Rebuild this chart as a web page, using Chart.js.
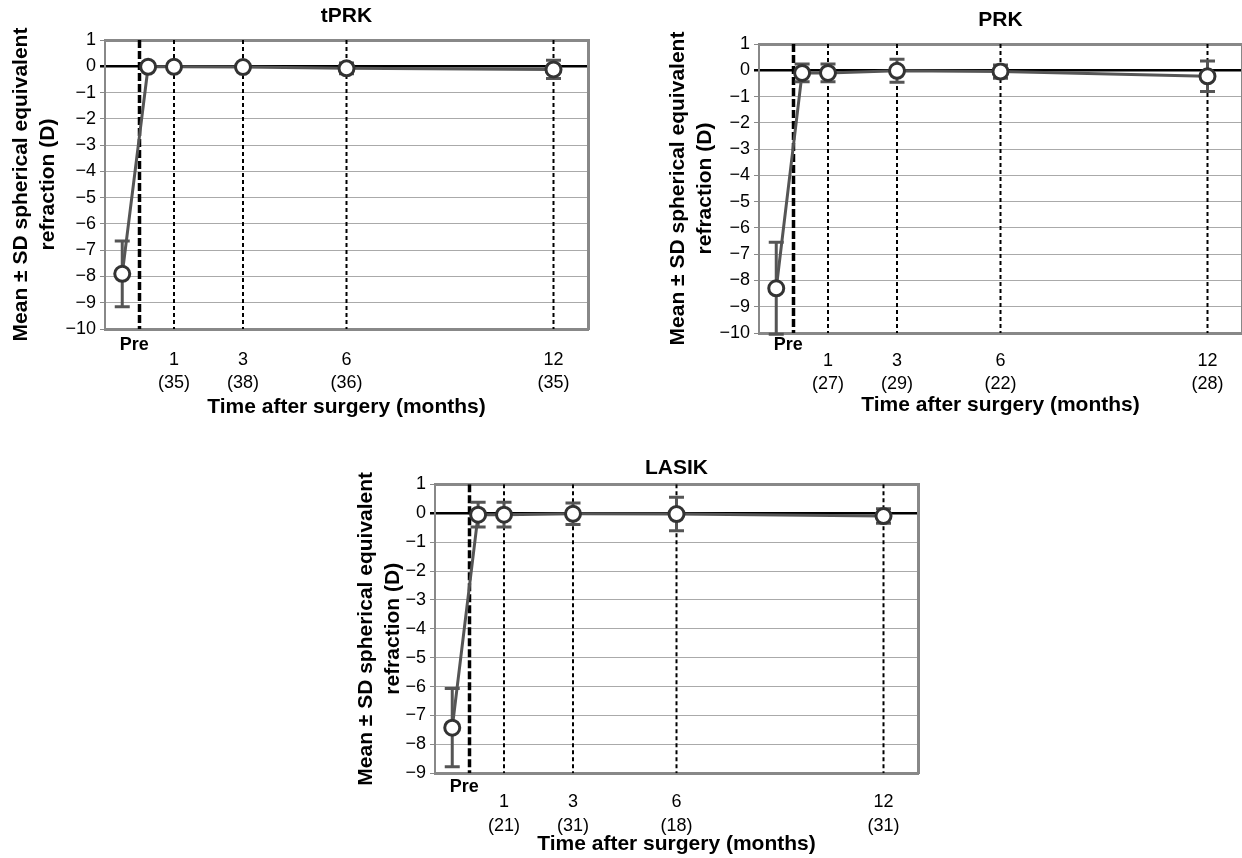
<!DOCTYPE html>
<html><head><meta charset="utf-8">
<script src="https://cdn.jsdelivr.net/npm/chart.js@4"></script>
<style>
html,body{margin:0;padding:0;background:#fff;overflow:hidden;width:1242px;height:858px;position:relative;}
canvas{position:absolute;}
</style></head><body>
<canvas id="c1"></canvas><canvas id="c2"></canvas><canvas id="c3"></canvas>
<script>
// ---- data ----
const timepoints = [-0.5, 0.25, 1, 3, 6, 12];   // months (Pre, early, 1, 3, 6, 12)
const monthTicks = [1, 3, 6, 12];
const monthLabels = ['1', '3', '6', '12'];
const preTick = -0.15;
const preLabel = 'Pre';
const guideMonths = [0, 1, 3, 6, 12];

const tprkMean = [-7.9, -0.02, -0.02, -0.03, -0.08, -0.12];
const tprkSD   = [1.25, 0.1, 0.1, 0.1, 0.2, 0.35];
const tprkN    = ['35', '38', '36', '35'];

const prkMean = [-8.3, -0.1, -0.1, -0.02, -0.05, -0.23];
const prkSD   = [1.75, 0.34, 0.34, 0.44, 0.25, 0.58];
const prkN    = ['27', '29', '22', '28'];

const lasikMean = [-7.42, -0.05, -0.05, -0.02, -0.03, -0.1];
const lasikSD   = [1.35, 0.43, 0.43, 0.37, 0.58, 0.25];
const lasikN    = ['21', '31', '18', '31'];

const yTitle = ['Mean \u00b1 SD spherical equivalent', 'refraction (D)'];
const xTitle = 'Time after surgery (months)';

const FONT = '"Liberation Sans", Arial, Helvetica, sans-serif';

const guides = {
  id: 'guides',
  beforeDatasetsDraw(chart) {
    const {ctx, chartArea: a, scales: {x, y}} = chart;
    ctx.save();
    ctx.beginPath(); ctx.rect(a.left, a.top, a.right - a.left, a.bottom - a.top); ctx.clip();
    guideMonths.forEach(m => {
      const px = x.getPixelForValue(m);
      ctx.beginPath();
      if (m === 0) { ctx.lineWidth = 3.5; ctx.setLineDash([8, 3]); }
      else { ctx.lineWidth = 2; ctx.setLineDash([4, 3]); }
      ctx.strokeStyle = '#000';
      ctx.moveTo(px, a.top); ctx.lineTo(px, a.bottom); ctx.stroke();
    });
    ctx.restore();
    ctx.save();
    ctx.setLineDash([]);
    ctx.strokeStyle = '#555'; ctx.lineWidth = 3;
    chart.data.datasets.forEach(ds => {
      ds.data.forEach((p, i) => {
        const sd = ds.sd[i];
        const px = x.getPixelForValue(p.x);
        const yt = y.getPixelForValue(p.y + sd), yb = y.getPixelForValue(p.y - sd);
        ctx.beginPath();
        ctx.moveTo(px, yt); ctx.lineTo(px, yb);
        ctx.moveTo(px - 7.5, yt); ctx.lineTo(px + 7.5, yt);
        ctx.moveTo(px - 7.5, yb); ctx.lineTo(px + 7.5, yb);
        ctx.stroke();
      });
    });
    ctx.restore();
  }
};

function build(id, cfg) {
  const lhY = 21 * 1.3;
  const tx = cfg.yTitleX - lhY / 2;
  const cl = Math.floor(tx) - 2;
  const topH = cfg.titleGap + 10.5;
  const ct = Math.floor(cfg.area.t - topH);
  const cr = Math.ceil(cfg.area.r + 8);
  const xH = cfg.preC + 6;
  const x2H = cfg.titleC + 10.5 - xH;
  const below = xH + x2H;
  const cb = Math.ceil(cfg.area.b + below);
  const cv = document.getElementById(id);
  cv.width = cr - cl; cv.height = cb - ct;
  cv.style.left = cl + 'px'; cv.style.top = ct + 'px';
  cv.style.width = (cr - cl) + 'px'; cv.style.height = (cb - ct) + 'px';
  const noGrid = {display: false, drawTicks: false};
  new Chart(cv, {
    type: 'line',
    data: {datasets: [{
      data: timepoints.map((t, i) => ({x: t, y: cfg.mean[i]})),
      sd: cfg.sd,
      xAxisID: 'x', yAxisID: 'y',
      borderColor: '#555', borderWidth: 3, tension: 0,
      pointRadius: 7.5, pointBackgroundColor: '#fff', pointBorderColor: '#333', pointBorderWidth: 3,
      clip: false
    }]},
    options: {
      responsive: false, animation: false, devicePixelRatio: 1,
      layout: {autoPadding: false, padding: {left: 0, top: cfg.area.t - topH - ct, right: cr - cfg.area.r, bottom: cb - cfg.area.b - below}},
      plugins: {legend: {display: false}, tooltip: {enabled: false}, title: {display: false}},
      scales: {
        x: {
          type: 'linear', position: 'bottom', min: -1, max: 13,
          grid: noGrid, border: {display: true, color: '#888', width: 3},
          afterBuildTicks: s => { s.ticks = [{value: preTick}]; },
          ticks: {autoSkip: false, maxRotation: 0, padding: cfg.preC - 10.8, color: '#000',
            font: {family: FONT, size: 18, weight: 'bold', lineHeight: 1.2},
            callback: () => preLabel},
          afterFit: s => { s.height = xH; }
        },
        x2: {
          type: 'linear', position: 'bottom', min: -1, max: 13,
          grid: noGrid, border: {display: false},
          afterBuildTicks: s => { s.ticks = monthTicks.map(v => ({value: v})); },
          ticks: {autoSkip: false, maxRotation: 0, padding: cfg.numC - xH - 11.7, color: '#000',
            font: {family: FONT, size: 18, lineHeight: 1.3},
            callback: (v, i) => [monthLabels[i], '(' + cfg.counts[i] + ')']},
          title: {display: true, text: xTitle, color: '#000', padding: 0,
            font: {family: FONT, size: 21, weight: 'bold', lineHeight: 1}},
          afterFit: s => { s.height = x2H; }
        },
        xt: {
          type: 'linear', position: 'top', min: -1, max: 13,
          grid: noGrid, ticks: {display: false},
          border: {display: true, color: '#888', width: 3},
          title: {display: true, text: cfg.title, color: '#000', padding: 0,
            font: {family: FONT, size: 21, weight: 'bold', lineHeight: 1}},
          afterFit: s => { s.height = topH; }
        },
        y: {
          type: 'linear', position: 'left', min: cfg.yMin, max: 1,
          ticks: {stepSize: 1, padding: 4, color: '#000', font: {family: FONT, size: 18},
            callback: v => v < 0 ? '\u2212' + Math.abs(v) : String(v)},
          grid: {
            color: c => (c.tick && c.tick.value === 0) ? '#000' : '#aaa',
            lineWidth: c => (c.tick && c.tick.value === 0) ? 2.5 : 1,
            tickColor: c => (c.tick && c.tick.value === 0) ? '#000' : '#888',
            tickLength: 5, drawTicks: true
          },
          border: {display: true, color: '#888', width: 2},
          title: {display: true, text: yTitle, color: '#000', padding: {top: tx - cl, bottom: 0},
            font: {family: FONT, size: 21, weight: 'bold', lineHeight: 1.3}},
          afterFit: s => { s.width = cfg.area.l - cl; }
        },
        yr: {
          type: 'linear', position: 'right', min: cfg.yMin, max: 1,
          grid: noGrid, ticks: {display: false},
          border: {display: true, color: '#888', width: 3},
          afterFit: s => { s.width = 0; }
        }
      }
    },
    plugins: [guides]
  });
}

build('c1', {title: 'tPRK', area: {l: 105, t: 40, r: 588, b: 329}, yMin: -10, yTitleX: 21,
  titleGap: 24, preC: 16, numC: 31, titleC: 78.5,
  mean: tprkMean, sd: tprkSD, counts: tprkN});
build('c2', {title: 'PRK', area: {l: 759, t: 44, r: 1242, b: 333}, yMin: -10, yTitleX: 678,
  titleGap: 24, preC: 12, numC: 28, titleC: 72.5,
  mean: prkMean, sd: prkSD, counts: prkN});
build('c3', {title: 'LASIK', area: {l: 435, t: 484.3, r: 918, b: 773.3}, yMin: -9, yTitleX: 366,
  titleGap: 16, preC: 14, numC: 29, titleC: 70.5,
  mean: lasikMean, sd: lasikSD, counts: lasikN});
</script>
</body></html>
